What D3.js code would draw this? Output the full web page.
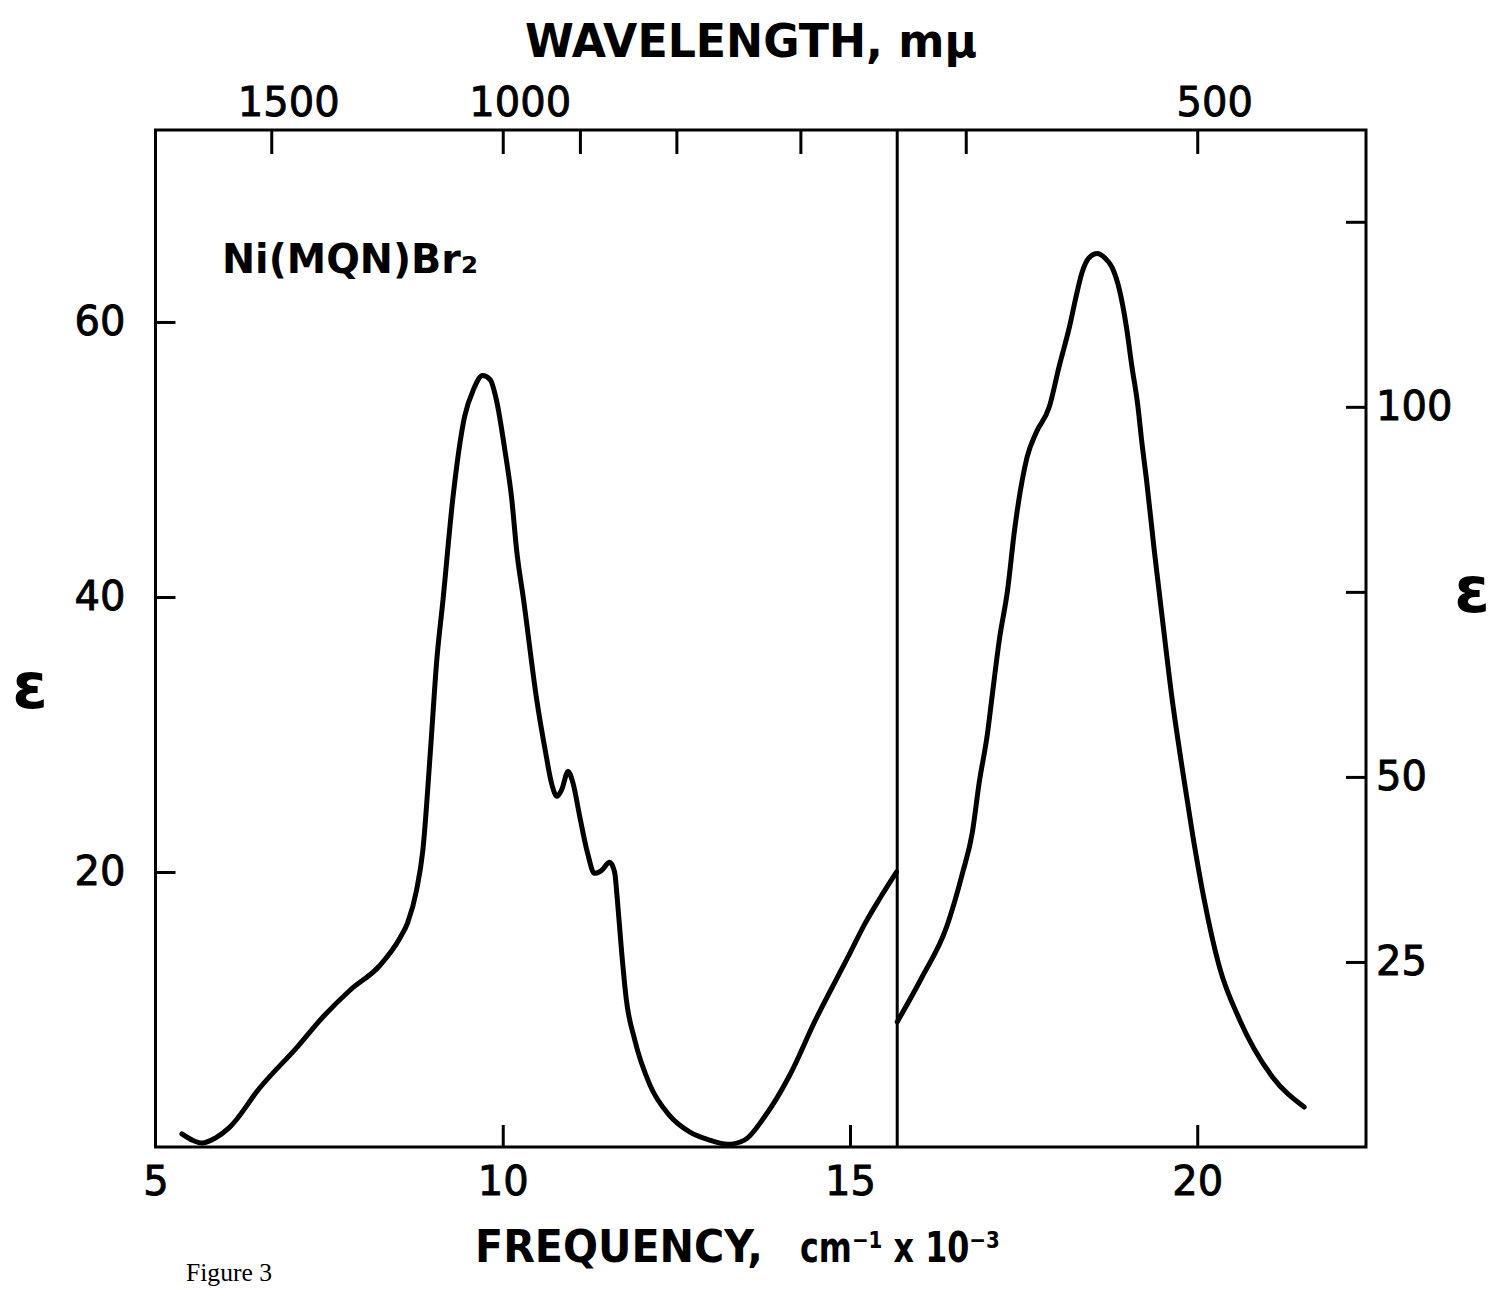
<!DOCTYPE html>
<html>
<head>
<meta charset="utf-8">
<script src="https://cdn.jsdelivr.net/npm/d3@7"></script>
<style>
  html, body { margin: 0; padding: 0; background: #fff; }
  svg { display: block; }
  .num { font-family: "DejaVu Sans", sans-serif; font-size: 40px; fill: #000; stroke: #000; stroke-width: 0.9px; }
  .lbl { font-family: "DejaVu Sans", sans-serif; font-weight: bold; fill: #000; }
</style>
</head>
<body>
<svg id="chart" width="1493" height="1290"></svg>
<script>
// Absorption spectrum of Ni(MQN)Br2, two panels sharing the frequency axis.
// Frequencies are in cm^-1 x 10^-3; extinction coefficient epsilon.

// Near-IR / red panel (left epsilon scale)
const leftFreq = [5.38, 5.53, 5.67, 5.86, 6.07, 6.50, 7.04, 7.41, 7.80, 8.23, 8.52, 8.63, 8.76, 8.85,
  8.96, 9.05, 9.14, 9.28, 9.45, 9.58, 9.71, 9.82, 9.91, 10.03, 10.13, 10.20, 10.30, 10.49, 10.61,
  10.71, 10.78, 10.85, 10.94, 11.01, 11.11, 11.22, 11.32, 11.42, 11.54, 11.61, 11.65, 11.71, 11.78,
  11.90, 12.12, 12.40, 12.69, 12.98, 13.24, 13.48, 13.77, 14.13, 14.49, 14.99, 15.20, 15.42, 15.67];
const leftEps = [0.95, 0.5, 0.29, 0.65, 1.45, 4.29, 7.27, 9.45, 11.4, 13.2, 15.2, 16.3, 18.7, 21.6,
  28.9, 35.4, 39.8, 47.1, 53.1, 55.1, 56.1, 55.8, 54.3, 50.7, 47.1, 43.4, 39.8, 32.5, 28.9,
  26.3, 25.5, 26.0, 27.3, 26.5, 24.0, 21.4, 19.9, 20.1, 20.7, 20.0, 18.0, 14.3, 10.7,
  7.8, 4.5, 2.3, 1.1, 0.5, 0.2, 0.5, 2.2, 5.2, 9.1, 14.0, 16.1, 18.0, 20.0];

// Visible panel (right epsilon scale)
const rightFreq = [15.68, 16.04, 16.39, 16.62, 16.76, 16.86, 16.98, 17.04, 17.15, 17.27, 17.37, 17.48,
  17.55, 17.68, 17.87, 18.01, 18.16, 18.27, 18.34, 18.44, 18.56, 18.67, 18.77, 18.88, 18.98, 19.06,
  19.14, 19.21, 19.27, 19.38, 19.50, 19.64, 19.78, 19.93, 20.10, 20.32, 20.61, 21.08, 21.54];
const rightEps = [16.9, 23.0, 29.7, 37.0, 42.4, 49.2, 55.9, 60.4, 68.5, 75.3, 83.4, 90.1,
  93.2, 96.5, 100.0, 105.4, 110.8, 115.5, 118.1, 120.1, 120.7, 120.1, 118.9, 115.8, 110.8, 105.4,
  100.5, 94.6, 90.1, 80.7, 71.2, 60.4, 51.4, 42.4, 33.4, 24.3, 17.2, 9.5, 5.4];

// Axis ticks
const freqTicks = [10, 15, 20];
const freqLabels = [5, 10, 15, 20];
const waveTicks = [1500, 1000, 900, 800, 700, 600, 500];   // m\u03bc
const waveLabels = [1500, 1000, 500];
const leftTicks = [20, 40, 60];
const rightTicks = [25, 50, 75, 100, 125];
const rightLabels = [25, 50, 100];
const panelSplit = 15.68;

const svg = d3.select("#chart");
const x0 = 155.5, x1 = 1366, yTop = 130, yBot = 1147;

const x = d3.scaleLinear().domain([5, 22.43]).range([x0, x1]);
const yL = d3.scaleLinear().domain([0, 73.96]).range([yBot, yTop]);
const yR = d3.scaleLinear().domain([0, 137.4]).range([yBot, yTop]);

// frame
svg.append("rect")
  .attr("x", x0).attr("y", yTop)
  .attr("width", x1 - x0).attr("height", yBot - yTop)
  .attr("fill", "none").attr("stroke", "#000").attr("stroke-width", 3);

// panel divider
svg.append("line")
  .attr("x1", x(panelSplit)).attr("x2", x(panelSplit))
  .attr("y1", yTop).attr("y2", yBot)
  .attr("stroke", "#000").attr("stroke-width", 3);

function styleAxis(g) {
  g.select(".domain").remove();
  g.selectAll(".tick line").attr("stroke", "#000").attr("stroke-width", 3);
  g.selectAll(".tick text").attr("class", "num").attr("font-size", null).attr("font-family", null);
}

// bottom frequency axis (ticks inward)
svg.append("g")
  .attr("transform", `translate(0,${yBot})`)
  .call(d3.axisBottom(x).tickValues(freqTicks).tickSize(-22).tickFormat(() => ""))
  .call(styleAxis);
svg.append("g")
  .attr("transform", `translate(0,${yBot})`)
  .call(d3.axisBottom(x).tickValues(freqLabels).tickSize(0).tickPadding(20).tickFormat(d3.format("d")))
  .call(styleAxis);

// top wavelength axis (reciprocal positions)
const wavePos = w => 1e4 / w;
svg.append("g")
  .attr("transform", `translate(0,${yTop})`)
  .call(d3.axisTop(x).tickValues(waveTicks.map(wavePos)).tickSize(-24).tickFormat(() => ""))
  .call(styleAxis);
svg.append("g")
  .attr("transform", `translate(0,${yTop})`)
  .call(d3.axisTop(x).tickValues(waveLabels.map(wavePos)).tickSize(0).tickPadding(14)
    .tickFormat(v => String(Math.round(1e4 / v))))
  .call(styleAxis)
  .selectAll(".tick text").attr("dx", 17);

// left epsilon axis
svg.append("g")
  .attr("transform", `translate(${x0},0)`)
  .call(d3.axisLeft(yL).tickValues(leftTicks).tickSize(-20).tickPadding(30).tickFormat(d3.format("d")))
  .call(styleAxis);

// right epsilon axis
svg.append("g")
  .attr("transform", `translate(${x1},0)`)
  .call(d3.axisRight(yR).tickValues(rightTicks).tickSize(-20).tickPadding(10)
    .tickFormat(d => rightLabels.includes(d) ? String(d) : ""))
  .call(styleAxis);

// spectra
const lineL = d3.line().x((d, i) => x(leftFreq[i])).y(d => yL(d)).curve(d3.curveMonotoneX);
const lineR = d3.line().x((d, i) => x(rightFreq[i])).y(d => yR(d)).curve(d3.curveMonotoneX);
svg.append("path").attr("d", lineL(leftEps))
  .attr("fill", "none").attr("stroke", "#000").attr("stroke-width", 5)
  .attr("stroke-linejoin", "round").attr("stroke-linecap", "round");
svg.append("path").attr("d", lineR(rightEps))
  .attr("fill", "none").attr("stroke", "#000").attr("stroke-width", 5)
  .attr("stroke-linejoin", "round").attr("stroke-linecap", "round");

// titles
svg.append("text").attr("class", "lbl")
  .attr("x", 525).attr("y", 57).attr("font-size", 46)
  .attr("textLength", 452).attr("lengthAdjust", "spacingAndGlyphs")
  .text("WAVELENGTH, m\u03bc");

svg.append("text").attr("class", "lbl")
  .attr("x", 475).attr("y", 1262).attr("font-size", 44)
  .attr("textLength", 288).attr("lengthAdjust", "spacingAndGlyphs")
  .text("FREQUENCY,");
svg.append("text").attr("class", "lbl")
  .attr("x", 800).attr("y", 1262).attr("font-size", 42)
  .attr("textLength", 200).attr("lengthAdjust", "spacingAndGlyphs")
  .text("cm\u207b\u00b9 x 10\u207b\u00b3");

svg.append("text")
  .attr("x", 186).attr("y", 1281)
  .attr("font-family", "Liberation Serif, serif").attr("font-size", 25)
  .attr("textLength", 86).attr("lengthAdjust", "spacingAndGlyphs")
  .attr("fill", "#000")
  .text("Figure 3");

// epsilon axis titles
svg.append("text").attr("class", "lbl")
  .attr("x", 30).attr("y", 708).attr("font-size", 64).attr("text-anchor", "middle")
  .text("\u03b5");
svg.append("text").attr("class", "lbl")
  .attr("x", 1472).attr("y", 612).attr("font-size", 64).attr("text-anchor", "middle")
  .text("\u03b5");

// compound label
svg.append("text").attr("class", "lbl")
  .attr("x", 222).attr("y", 273).attr("font-size", 40)
  .attr("textLength", 256).attr("lengthAdjust", "spacingAndGlyphs")
  .text("Ni(MQN)Br\u2082");
</script>
</body>
</html>
